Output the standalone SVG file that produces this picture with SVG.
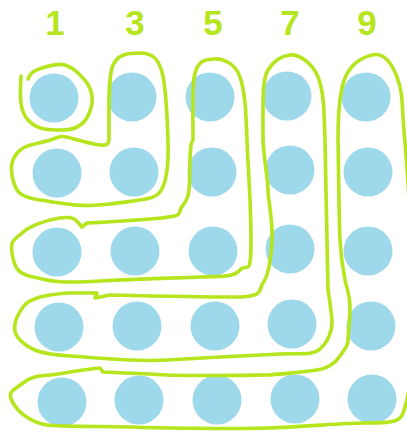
<svg xmlns="http://www.w3.org/2000/svg" width="407" height="433" viewBox="0 0 407 433">
<style>
.dot{fill:#9dd9ea}
.num{font-family:"Liberation Sans","Open Sans",sans-serif;font-weight:700;font-size:35px;fill:#b5e51d;text-anchor:middle}
.loop{fill:none;stroke:#b5e51d;stroke-width:3.6;stroke-linecap:round;stroke-linejoin:round}
</style>
<rect width="407" height="433" fill="#ffffff"/>
<g id="labels">
<text class="num" x="55" y="35">1</text>
<text class="num" x="135" y="35">3</text>
<text class="num" x="213" y="35">5</text>
<text class="num" x="290" y="35">7</text>
<text class="num" x="367" y="35">9</text>
</g>
<g id="dots">
<circle class="dot" cx="54" cy="98" r="24.5"/>
<circle class="dot" cx="132" cy="97" r="24.5"/>
<circle class="dot" cx="210" cy="97" r="24.5"/>
<circle class="dot" cx="287" cy="96" r="24.5"/>
<circle class="dot" cx="366" cy="97" r="24.5"/>
<circle class="dot" cx="57" cy="173" r="24.5"/>
<circle class="dot" cx="134" cy="172" r="24.5"/>
<circle class="dot" cx="212" cy="172" r="24.5"/>
<circle class="dot" cx="290" cy="170" r="24.5"/>
<circle class="dot" cx="368" cy="172" r="24.5"/>
<circle class="dot" cx="57" cy="252" r="24.5"/>
<circle class="dot" cx="135" cy="251" r="24.5"/>
<circle class="dot" cx="213" cy="251" r="24.5"/>
<circle class="dot" cx="290" cy="249" r="24.5"/>
<circle class="dot" cx="368" cy="251" r="24.5"/>
<circle class="dot" cx="59" cy="327" r="24.5"/>
<circle class="dot" cx="137" cy="326" r="24.5"/>
<circle class="dot" cx="215" cy="326" r="24.5"/>
<circle class="dot" cx="292" cy="324" r="24.5"/>
<circle class="dot" cx="371" cy="326" r="24.5"/>
<circle class="dot" cx="62" cy="402" r="24.5"/>
<circle class="dot" cx="139" cy="400" r="24.5"/>
<circle class="dot" cx="217" cy="400" r="24.5"/>
<circle class="dot" cx="295" cy="399" r="24.5"/>
<circle class="dot" cx="372" cy="399" r="24.5"/>
</g>
<g id="loops">
<path id="loop1" class="loop" d="M21,76 C20,95 19,110 28,120 S48,130 63,130 S87,123 91,108 S89,83 77,72 S55,64 42,68 S30,76 28,79"/>
<path id="loop3" class="loop" d="M109,140 C109,110 108,82 112,68 S128,53 140,53 S158,58 162,72 S167,110 168,140 S166,184 160,192 S140,200 110,204 S60,203 40,200 S16,192 13,180 S11,160 18,152 S38,144 50,140 S60,136 66,137 S90,144 100,145 S108,142 109,140"/>
<path id="loop5" class="loop" d="M193,140 C193,100 192,80 196,70 S205,60 213,59 S235,62 240,77 S246,110 247,140 S251,200 251,240 S247,262 240,270 S220,276 200,277 S150,278 100,281 S50,280 33,277 S14,265 12,253 S14,240 22,233 S45,220 60,218 S76,220 82,227 L87,223 S110,222 150,219 S175,214 183,205 S189,185 190,160 S192,145 193,140"/>
<path id="loop7" class="loop" d="M263,140 C263,100 262,80 268,70 S282,56 290,55 S312,62 318,77 S324,110 325,140 L328,290 S332,315 332,323 S328,342 320,349 S300,353 280,354 S200,358 167,360 S100,358 70,356 S30,350 20,340 S15,318 23,307 S50,295 67,293 L97,293 L95,298 L110,295 S200,297 233,297 S258,290 263,283 S271,260 272,240 S268,200 268,190 S264,160 263,140"/>
<path id="loop9" class="loop" d="M338,140 C338,110 340,90 345,78 S360,58 372,55 S392,64 397,77 S402,100 403,117 S407,160 409,200 L409,390 S405,413 400,418 S380,423 363,423 S300,427 267,428 S150,428 133,427 S60,427 47,425 S20,415 13,403 S14,390 23,383 S40,376 50,375 S85,369 100,368 L103,372 S150,374 167,375 S260,375 267,375 S310,371 317,370 S334,365 340,356 S348,345 348,340 S350,320 350,307 S347,290 345,280 S341,260 340,240 S339,190 338,140"/>
</g>
</svg>
